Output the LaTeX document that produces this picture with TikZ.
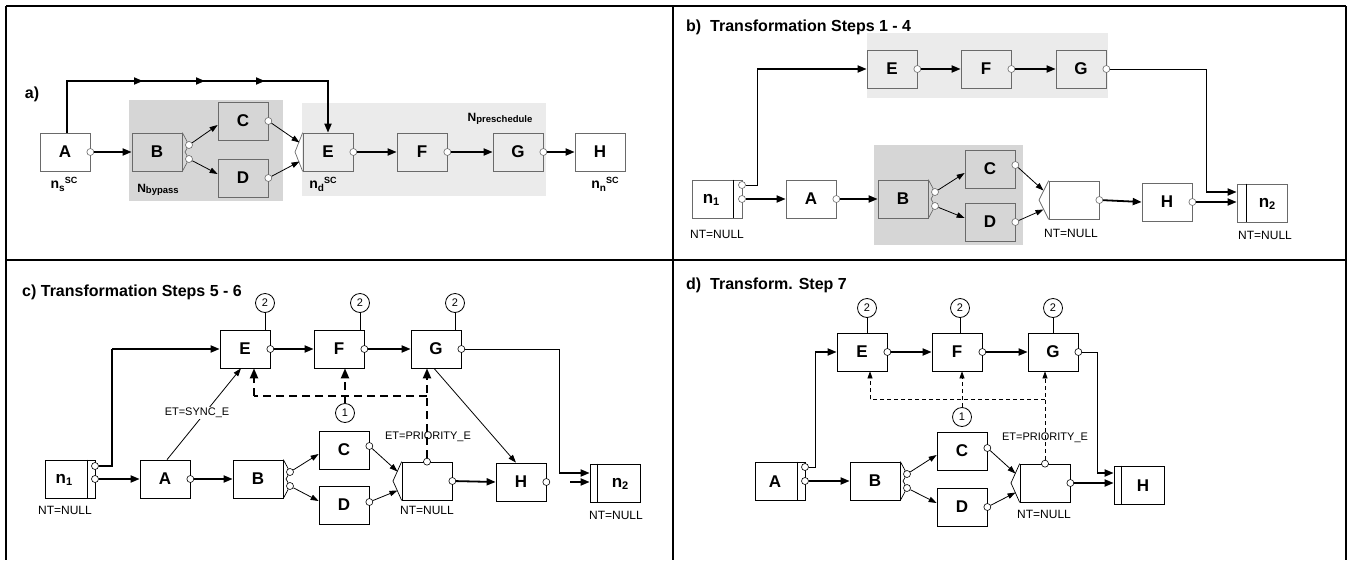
\documentclass[tikz,border=0pt]{standalone}
\usepackage{fontspec}
\setmainfont{Liberation Sans}
\usetikzlibrary{arrows.meta}
\definecolor{byp}{HTML}{D6D6D6}
\definecolor{pre}{HTML}{EBEBEB}
\definecolor{bord}{HTML}{6A6A6A}
\newcommand{\myNsc}[1]{{\fontsize{14}{14}\selectfont\bfseries n}\raisebox{-0.5ex}{\fontsize{10}{10}\selectfont\bfseries #1}\raisebox{1.0ex}{\fontsize{9}{9}\selectfont\bfseries SC}}
\newcommand{\myNone}[1]{{\fontsize{17}{17}\selectfont\bfseries n}\raisebox{-0.4ex}{\fontsize{11}{11}\selectfont\bfseries #1}}
\begin{document}
\begin{tikzpicture}[x=1pt,y=-1pt,
  every node/.style={inner sep=0pt},
  bx/.style={draw=black, line width=0.7pt, fill=white, minimum width=50pt, minimum height=38pt, font=\fontsize{17}{17}\selectfont\bfseries},
  gbx/.style={bx, draw=bord},
  port/.style={circle, draw=black, line width=0.6pt, fill=white, minimum size=7pt},
  num/.style={circle, draw=black, line width=0.8pt, fill=white, minimum size=19pt, font=\fontsize{11}{11}\selectfont},
  thk/.style={line width=1.8pt, -{Triangle[length=9pt,width=7pt]}},
  thn/.style={line width=0.8pt, -{Triangle[length=8pt,width=5.5pt]}},
  dsh/.style={line width=2pt, dash pattern=on 8pt off 5pt, -{Triangle[length=10pt,width=8pt]}},
  dshl/.style={line width=2pt, dash pattern=on 8pt off 5pt},
  dshn/.style={line width=0.7pt, dash pattern=on 4pt off 3pt, -{Triangle[length=7pt,width=5pt]}},
  dshnl/.style={line width=0.7pt, dash pattern=on 4pt off 3pt},
  ttl/.style={anchor=west, font=\fontsize{16}{16}\selectfont\bfseries},
  nt/.style={font=\fontsize{12}{12}\selectfont},
  et/.style={font=\fontsize{11}{11}\selectfont},
  jn/.style={line width=0.7pt},
  bar/.style={line width=1.4pt}
]
\useasboundingbox (0,0) rectangle (1362,560);
% frame
\draw[line width=1.5pt] (6,6) -- (1346,6);
\draw[line width=1.5pt] (6,6) -- (6,560);
\draw[line width=1.5pt] (1346,6) -- (1346,560);
\draw[line width=1.5pt] (673,6) -- (673,560);
\draw[line width=1.5pt] (6,260) -- (1346,260);

% ================= panel a =================
\node[anchor=center, font=\fontsize{16}{16}\selectfont\bfseries] (alab) at (32,94) {a)};
\fill[byp] (129,100) rectangle (283,201);
\fill[pre] (302,103) rectangle (546,196);
\node[gbx] (aA) at (65,152) {A};
\node[gbx, fill=byp] (aB) at (157,152) {B};
\node[gbx, fill=byp] (aC) at (243,121) {C};
\node[gbx, fill=byp] (aD) at (243,178) {D};
\node[gbx, fill=pre] (aE) at (328,152) {E};
\node[gbx, fill=pre] (aF) at (422,152) {F};
\node[gbx, fill=pre] (aG) at (518,152) {G};
\node[gbx] (aH) at (600,152) {H};
\coordinate (aEt) at (295,152);
\coordinate (aEj1) at (299.5,142.5);
\coordinate (aEj2) at (299.5,161.5);
\coordinate (aBm) at (185,152);
\draw[jn, bord] (aE.north west) -- (aEt) -- (aE.south west);
\node[port, draw=bord] (aAp) at (aA.east) {};
\node[port, draw=bord] (aBp1) at (189,145) {};
\node[port, draw=bord] (aBp2) at (189,159) {};
\node[port, draw=bord] (aCp) at (aC.east) {};
\node[port, draw=bord] (aDp) at (aD.east) {};
\node[port, draw=bord] (aEp) at (aE.east) {};
\node[port, draw=bord] (aFp) at (aF.east) {};
\node[port, draw=bord] (aGp) at (aG.east) {};
\draw[jn, bord] (aB.north east) -- (aBp1) -- (aBm) -- (aBp2) -- (aB.south east);
\coordinate (aTop) at (200,81);
\draw[thk] ([xshift=2pt]aA.north) |- (aTop) -| (aE.north);
\draw[thk] (127,81) -- (143,81);
\draw[thk] (189,81) -- (205,81);
\draw[thk] (249,81) -- (265,81);
\draw[thk] (aAp) -- (aB.west);
\draw[thn] (aBp1) -- ([yshift=-4pt]aC.west);
\draw[thn] (aBp2) -- ([yshift=4pt]aD.west);
\draw[thn] (aCp) -- (aEj1);
\draw[thn] (aDp) -- (aEj2);
\draw[thk] (aEp) -- (aF.west);
\draw[thk] (aFp) -- (aG.west);
\draw[thk] (aGp) -- (aH.west);
\node (lns) at (64,184) {\myNsc{s}};
\node (lnd) at (323,184) {\myNsc{d}};
\node (lnn) at (605,184) {\myNsc{n}};
\node (lby) at (158,190) {{\fontsize{12}{12}\selectfont\bfseries N}\raisebox{-0.3ex}{\fontsize{9.5}{9.5}\selectfont\bfseries bypass}};
\node (lpre) at (500,119) {{\fontsize{12}{12}\selectfont\bfseries N}\raisebox{-0.3ex}{\fontsize{9.5}{9.5}\selectfont\bfseries preschedule}};

% ================= panel b =================
\node[ttl] (btl) at (686,27) {b)~~Transformation Steps 1 - 4};
\fill[pre] (867,33) rectangle (1108,98);
\fill[byp] (874,145) rectangle (1023,245);
\node[gbx, fill=pre] (bE) at (892,69) {E};
\node[gbx, fill=pre] (bF) at (986,69) {F};
\node[gbx, fill=pre] (bG) at (1081,69) {G};
\node[gbx] (bn1) at (717,199) {};
\node[gbx] (bA) at (811,199) {A};
\node[gbx, fill=byp] (bB) at (903,199) {B};
\node[gbx, fill=byp] (bC) at (990,169) {C};
\node[gbx, fill=byp] (bD) at (990,222) {D};
\node[gbx] (bN) at (1074,200) {};
\node[gbx] (bH) at (1167,202) {H};
\node[gbx] (bn2) at (1262,203) {};
\node (bn1t) at (711,200) {\myNone{1}};
\node (bn2t) at (1267,204) {\myNone{2}};
\draw[bar] ([xshift=-9pt]bn1.north east) -- ([xshift=-9pt]bn1.south east);
\draw[bar] ([xshift=10pt]bn2.north west) -- ([xshift=10pt]bn2.south west);
\coordinate (bNt) at (1039,200);
\coordinate (bNj1) at (1043.5,190.5);
\coordinate (bNj2) at (1043.5,209.5);
\coordinate (bBm) at (931,199);
\draw[jn, bord] (bN.north west) -- (bNt) -- (bN.south west);
\node[port, draw=bord] (bn1p1) at (742,185) {};
\node[port, draw=bord] (bn1p2) at (742,199) {};
\node[port, draw=bord] (bAp) at (bA.east) {};
\node[port, draw=bord] (bBp1) at (935,192) {};
\node[port, draw=bord] (bBp2) at (935,206) {};
\node[port, draw=bord] (bCp) at ([yshift=4pt]bC.east) {};
\node[port, draw=bord] (bDp) at (bD.east) {};
\node[port, draw=bord] (bNp) at (bN.east) {};
\node[port, draw=bord] (bHp) at (bH.east) {};
\node[port, draw=bord] (bEp) at (bE.east) {};
\node[port, draw=bord] (bFp) at (bF.east) {};
\node[port, draw=bord] (bGp) at (bG.east) {};
\draw[jn, bord] (bB.north east) -- (bBp1) -- (bBm) -- (bBp2) -- (bB.south east);
\coordinate (bUp) at (757,185);
\draw[line width=1pt] (bn1p1) -- (bUp) -- (bUp |- bE.west);
\draw[thk] (bUp |- bE.west) -- (bE.west);
\draw[thk] (bn1p2) -- (bA.west);
\draw[thk] (bAp) -- (bB.west);
\draw[thn] (bBp1) -- ([yshift=-4pt]bC.west);
\draw[thn] (bBp2) -- ([yshift=4pt]bD.west);
\draw[thn] (bCp) -- (bNj1);
\draw[thn] (bDp) -- (bNj2);
\draw[thk] (bNp) -- (bH.west);
\draw[thk] (bHp) -- (bHp -| bn2.west);
\draw[thk] (bEp) -- (bF.west);
\draw[thk] (bFp) -- (bG.west);
\coordinate (bGr) at (1206,69);
\coordinate (bGd) at (1206,192);
\draw[line width=1pt] (bGp) -- (bGr) -- (bGd);
\draw[thk] (bGd) -- (bGd -| bn2.west);
\node[nt] (bl1) at (717,234) {NT=NULL};
\node[nt] (bl2) at (1071,233) {NT=NULL};
\node[nt] (bl3) at (1265,235) {NT=NULL};

% ================= panel c =================
\node[ttl] (ctl) at (22,292) {c) Transformation Steps 5 - 6};
\node[bx] (cE) at (245,349) {E};
\node[bx] (cF) at (339,349) {F};
\node[bx] (cG) at (436,349) {G};
\node[bx] (cn1) at (70,479) {};
\node[bx] (cA) at (165,479) {A};
\node[bx] (cB) at (258,479) {B};
\node[bx] (cC) at (344,450) {C};
\node[bx] (cD) at (344,505) {D};
\node[bx] (cN) at (427,481) {};
\node[bx] (cH) at (521,482) {H};
\node[bx] (cn2) at (615,483) {};
\node (cn1t) at (64,480) {\myNone{1}};
\node (cn2t) at (620,484) {\myNone{2}};
\draw[bar] ([xshift=-8pt]cn1.north east) -- ([xshift=-8pt]cn1.south east);
\draw[bar] ([xshift=8pt]cn2.north west) -- ([xshift=8pt]cn2.south west);
\node[num] (c2a) at (265,303) {2};
\node[num] (c2b) at (360,303) {2};
\node[num] (c2c) at (455,303) {2};
\draw[line width=1pt] (c2a) -- (c2a |- cE.north);
\draw[line width=1pt] (c2b) -- (c2b |- cF.north);
\draw[line width=1pt] (c2c) -- (c2c |- cG.north);
\coordinate (cNt) at (393,481);
\coordinate (cNj1) at (397.5,471.5);
\coordinate (cNj2) at (397.5,490.5);
\coordinate (cBm) at (286,479);
\draw[jn] (cN.north west) -- (cNt) -- (cN.south west);
\node[port] (cn1p1) at (95,466) {};
\node[port] (cn1p2) at (95,479) {};
\node[port] (cAp) at (cA.east) {};
\node[port] (cBp1) at (290,472) {};
\node[port] (cBp2) at (290,486) {};
\node[port] (cCp) at ([yshift=4pt]cC.east) {};
\node[port] (cDp) at ([yshift=3pt]cD.east) {};
\node[port] (cNp) at (cN.east) {};
\node[port] (cNtop) at (cN.north) {};
\node[port] (cHp) at (cH.east) {};
\node[port] (cEp) at (cE.east) {};
\node[port] (cFp) at (cF.east) {};
\node[port] (cGp) at (cG.east) {};
\draw[jn] (cB.north east) -- (cBp1) -- (cBm) -- (cBp2) -- (cB.south east);
\coordinate (cUp) at (112,466);
\draw[line width=1.2pt] (cn1p1) -- (cUp) -- (cUp |- cE.west);
\draw[thk] (cUp |- cE.west) -- (cE.west);
\draw[thk] (cn1p2) -- (cA.west);
\draw[thk] (cAp) -- (cB.west);
\draw[thn] (cBp1) -- ([yshift=-4pt]cC.west);
\draw[thn] (cBp2) -- ([yshift=4pt]cD.west);
\draw[thn] (cCp) -- (cNj1);
\draw[thn] (cDp) -- (cNj2);
\draw[thk] (cNp) -- (cH.west);
\coordinate (cHo) at (570,482);
\draw[thk] (cHo) -- (cHo -| cn2.west);
\draw[thk] (cEp) -- (cF.west);
\draw[thk] (cFp) -- (cG.west);
\coordinate (cGr) at (559,349);
\coordinate (cGd) at (559,473);
\draw[line width=1pt] (cGp) -- (cGr) -- (cGd);
\draw[thk] (cGd) -- (cGd -| cn2.west);
\draw[thn] ([xshift=-2pt]cG.south) -- ([xshift=-5pt]cH.north);
\draw[thn] ([xshift=2pt]cA.north) -- ([xshift=-4pt]cE.south);
\node[num] (c1) at (345,413) {1};
\coordinate (cDl) at (254,396);
\coordinate (cDr) at (427,396);
\draw[dsh] (c1) -- (c1 |- cF.south);
\draw[dshl] (cDr) -- (cDl);
\draw[dsh] (cDl) -- (cDl |- cE.south);
\draw[dsh] (cNtop) -- (cNtop |- cG.south);
\node[et, fill=white, inner sep=1pt] (cet1) at (197,413) {ET=SYNC\_E};
\node[et] (cet2) at (428,437) {ET=PRIORITY\_E};
\node[nt] (cl1) at (65,510) {NT=NULL};
\node[nt] (cl2) at (427,510) {NT=NULL};
\node[nt] (cl3) at (616,515) {NT=NULL};

% ================= panel d =================
\node[ttl] (dtl) at (686,285) {d)~~Transform. Step 7};
\node[bx] (dE) at (862,352) {E};
\node[bx] (dF) at (957,352) {F};
\node[bx] (dG) at (1053,352) {G};
\node[bx] (dA) at (780,481) {};
\node[bx] (dB) at (875,481) {B};
\node[bx] (dC) at (962,451) {C};
\node[bx] (dD) at (962,507) {D};
\node[bx] (dN) at (1045,483) {};
\node[bx] (dH) at (1139,485) {};
\node[font=\fontsize{17}{17}\selectfont\bfseries] (dAt) at (775,482) {A};
\node[font=\fontsize{17}{17}\selectfont\bfseries] (dHt) at (1143,486) {H};
\draw[bar] ([xshift=-8pt]dA.north east) -- ([xshift=-8pt]dA.south east);
\draw[bar] ([xshift=8pt]dH.north west) -- ([xshift=8pt]dH.south west);
\node[num] (d2a) at (867,308) {2};
\node[num] (d2b) at (960,308) {2};
\node[num] (d2c) at (1053,308) {2};
\draw[line width=1pt] (d2a) -- (d2a |- dE.north);
\draw[line width=1pt] (d2b) -- (d2b |- dF.north);
\draw[line width=1pt] (d2c) -- (d2c |- dG.north);
\coordinate (dNt) at (1011,483);
\coordinate (dNj1) at (1015.5,473.5);
\coordinate (dNj2) at (1015.5,492.5);
\coordinate (dBm) at (903,481);
\draw[jn] (dN.north west) -- (dNt) -- (dN.south west);
\node[port] (dAp1) at (805,467) {};
\node[port] (dAp2) at (805,481) {};
\node[port] (dBp1) at (907,474) {};
\node[port] (dBp2) at (907,488) {};
\node[port] (dCp) at ([yshift=3pt]dC.east) {};
\node[port] (dDp) at (dD.east) {};
\node[port] (dNp) at (dN.east) {};
\node[port] (dNtop) at (dN.north) {};
\node[port] (dEp) at (dE.east) {};
\node[port] (dFp) at (dF.east) {};
\node[port] (dGp) at (dG.east) {};
\draw[jn] (dB.north east) -- (dBp1) -- (dBm) -- (dBp2) -- (dB.south east);
\coordinate (dUp) at (815,467);
\draw[line width=1pt] (dAp1) -- (dUp) -- (dUp |- dE.west);
\draw[thk] (dUp |- dE.west) -- (dE.west);
\draw[thk] (dAp2) -- (dB.west);
\draw[thn] (dBp1) -- ([yshift=-4pt]dC.west);
\draw[thn] (dBp2) -- ([yshift=4pt]dD.west);
\draw[thn] (dCp) -- (dNj1);
\draw[thn] (dDp) -- (dNj2);
\draw[thk] (dNp) -- (dNp -| dH.west);
\draw[thk] (dEp) -- (dF.west);
\draw[thk] (dFp) -- (dG.west);
\coordinate (dGr) at (1097,352);
\coordinate (dGd) at (1097,473);
\draw[line width=1pt] (dGp) -- (dGr) -- (dGd);
\draw[thk] (dGd) -- (dGd -| dH.west);
\node[num] (d1) at (962,417) {1};
\coordinate (dDl) at (870,399);
\coordinate (dDr) at (1045,399);
\draw[dshn] (d1) -- (d1 |- dF.south);
\draw[dshnl] (dDr) -- (dDl);
\draw[dshn] (dDl) -- (dDl |- dE.south);
\draw[dshn] (dNtop) -- (dNtop |- dG.south);
\node[et] (det) at (1045,438) {ET=PRIORITY\_E};
\node[nt] (dl1) at (1044,514) {NT=NULL};
\end{tikzpicture}
\end{document}
